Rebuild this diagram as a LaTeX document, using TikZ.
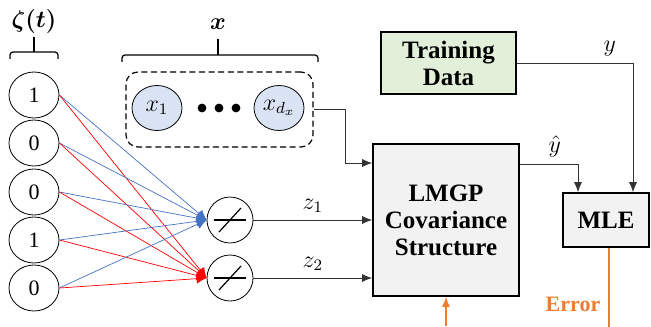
\documentclass[tikz,border=0pt]{standalone}
\usepackage{amsmath}
\usepackage{bm}
\usepackage{fontspec}
\setmainfont{Liberation Serif}
\usepackage{tikz}
\usetikzlibrary{arrows.meta,positioning,shapes.geometric,calc}
\definecolor{zblue}{HTML}{4472C4}
\definecolor{zred}{HTML}{FF0000}
\definecolor{xfill}{HTML}{DAE3F3}
\definecolor{tdfill}{HTML}{E2F0D9}
\definecolor{boxfill}{HTML}{F2F2F2}
\definecolor{errcol}{HTML}{ED7D31}

\begin{document}
\begin{tikzpicture}[x=0.5pt,y=-0.5pt,
  zeta node/.style={ellipse,draw,thin,minimum width=25pt,minimum height=23pt,inner sep=0pt,font=\fontsize{11}{12}\selectfont},
  x node/.style={ellipse,draw,thin,fill=xfill,minimum width=25pt,minimum height=22.5pt,inner sep=0pt,font=\fontsize{12}{13}\selectfont},
  act node/.style={circle,draw,thin,minimum size=23pt,inner sep=0pt},
  block/.style={draw,thick,align=center,inner sep=0pt,font=\bfseries\fontsize{12.5}{13.5}\selectfont},
  lbl/.style={text=black,font=\fontsize{12}{13}\selectfont},
  arr/.style={-{Latex[length=5pt,width=4pt]},black!80},
  blue line/.style={zblue,line width=0.35pt,-{Latex[length=5pt,width=5pt]}},
  red line/.style={zred,line width=0.35pt,-{Latex[length=5pt,width=5pt]}},
  err/.style={errcol,semithick}]
\useasboundingbox (0,0) rectangle (651,326);
% categorical inputs
\node[zeta node] (t1) at (34,95) {1};
\node[zeta node] (t2) at (34,143) {0};
\node[zeta node] (t3) at (34,192) {0};
\node[zeta node] (t4) at (34,240) {1};
\node[zeta node] (t5) at (34,288) {0};
\node[font=\fontsize{13}{14}\selectfont] (zlab) at (34,22) {$\bm{\zeta(t)}$};
\draw[semithick,rounded corners=1.5pt] (10,59) -- (10,52) -- (58,52) -- (58,59);
\draw[semithick] (34,52) -- (34,37);
% quantitative inputs
\node[draw,dash pattern=on 3pt off 1.8pt,line width=0.6pt,rounded corners=6pt,minimum width=93.5pt,minimum height=37.5pt] (xbox) at (219.5,109.5) {};
\node[x node] (x1) at (157,108) {$x_1$};
\node[x node] (xd) at (279,108) {$x_{d_x}$};
\foreach \px in {202,219,236}
  \fill (\px,108) circle (2.2pt);
\node[font=\fontsize{13}{14}\selectfont] (xlab) at (218,24) {$\bm{x}$};
\draw[semithick,rounded corners=1.5pt] (122,62) -- (122,55) -- (318,55) -- (318,62);
\draw[semithick] (218,55) -- (218,39);
% mapping
\node[act node] (n1) at (230,220) {};
\node[act node] (n2) at (230,278) {};
\foreach \n in {n1,n2} {
  \draw[line width=0.6pt] ($(\n.center)+(-16,0)$) -- ($(\n.center)+(16,0)$);
  \draw[line width=0.6pt] ($(\n.center)+(-11,12)$) -- ($(\n.center)+(11,-12)$);
}
\foreach \i in {1,...,5} {
  \draw[blue line] (t\i.east) -- (n1.west);
  \draw[red line] (t\i.east) -- (n2.west);
}
% blocks
\node[block,fill=boxfill,minimum width=73pt,minimum height=76pt] (lmgp) at (446,220) {LMGP\\Covariance\\Structure};
\node[block,fill=tdfill,minimum width=67.5pt,minimum height=31pt] (td) at (448.5,63) {Training\\Data};
\node[block,fill=boxfill,minimum width=43pt,minimum height=27pt] (mle) at (606,220) {MLE};
% connectors
\draw[arr] (xbox.east) -- ++(32,0) |- ($(lmgp.west)+(0,-57)$);
\draw[arr] (n1.east) -- node[lbl,above] {$z_1$} (lmgp.west);
\draw[arr] (n2.east) -- node[lbl,above] {$z_2$} (n2 -| lmgp.west);
\draw[arr] ($(lmgp.east)+(0,-56)$) -| node[lbl,pos=0.3,above] {$\hat{y}$} ($(mle.north)+(-28,0)$);
\draw[arr] (td.east) -| node[lbl,pos=0.4,above] {$y$} ($(mle.north)+(27,0)$);
% error feedback
\coordinate (eb) at (446,326);
\draw[err] ($(mle.south)+(3,0)$) -- ++(0,79);
\draw[err,-{Latex[length=5pt,width=4pt]}] (eb) -- (lmgp.south);
\node[errcol,font=\bfseries\fontsize{11}{12}\selectfont] (errlab) at (573,304) {Error};
\end{tikzpicture}
\end{document}
